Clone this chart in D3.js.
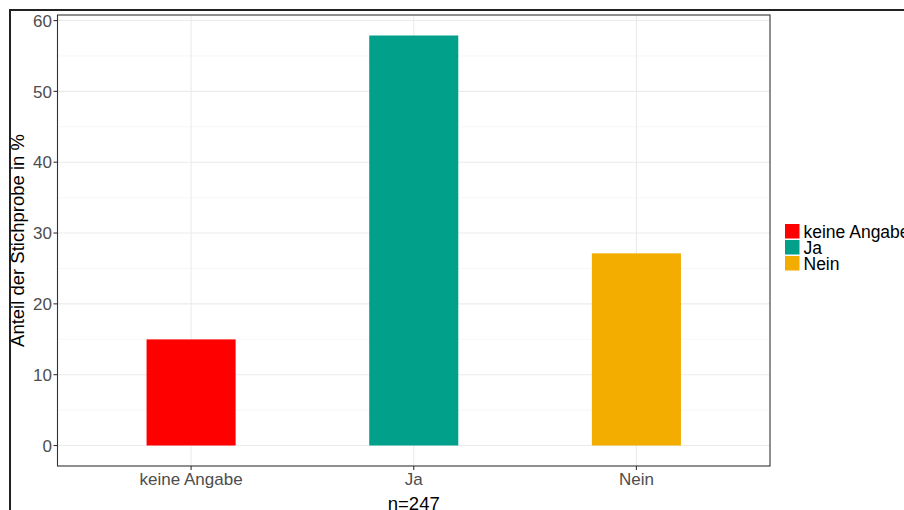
<!DOCTYPE html>
<html><head><meta charset="utf-8">
<script src="https://cdn.jsdelivr.net/npm/d3@7"></script>
<style>body{margin:0;background:#fff;}svg{display:block;font-family:"Liberation Sans",Arial,Helvetica,sans-serif;}</style>
</head><body><svg id="c" width="904" height="510"></svg>
<script>
const categories = ["keine Angabe", "Ja", "Nein"];
const values = [14.98, 57.89, 27.13];
const colors = ["#FF0000", "#00A08A", "#F2AD00"];
const yTicks = [0, 10, 20, 30, 40, 50, 60];
const yMinor = [5, 15, 25, 35, 45, 55];
const yTitle = "Anteil der Stichprobe in %";
const xTitle = "n=247";

const svg = d3.select("#c");
const L = 57.5, R = 770, T = 15, B = 466;
// outer frame
svg.append("rect").attr("x", 10).attr("y", 10).attr("width", 1000).attr("height", 600)
  .attr("fill", "none").attr("stroke", "#222").attr("stroke-width", 2);

const ymax = d3.max(values);
const y = d3.scaleLinear().domain([-0.05 * ymax, ymax * 1.05]).range([B, T]);
const xc = d3.scaleLinear().domain([0.4, 3.6]).range([L, R]);

const g = svg.append("g");
g.append("rect").attr("x", L).attr("y", T).attr("width", R - L).attr("height", B - T).attr("fill", "#fff");
g.selectAll(".mn").data(yMinor).join("line").attr("x1", L).attr("x2", R)
  .attr("y1", d => y(d)).attr("y2", d => y(d)).attr("stroke", "#f2f2f2").attr("stroke-width", 0.6);
g.selectAll(".mj").data(yTicks).join("line").attr("x1", L).attr("x2", R)
  .attr("y1", d => y(d)).attr("y2", d => y(d)).attr("stroke", "#ebebeb").attr("stroke-width", 1.1);
g.selectAll(".vx").data(categories).join("line").attr("y1", T).attr("y2", B)
  .attr("x1", (d, i) => xc(i + 1)).attr("x2", (d, i) => xc(i + 1)).attr("stroke", "#ebebeb").attr("stroke-width", 1.1);

g.selectAll(".bar").data(values).join("rect")
  .attr("x", (d, i) => xc(i + 1 - 0.2)).attr("width", (d, i) => xc(i + 1.2) - xc(i + 0.8))
  .attr("y", d => y(d)).attr("height", d => y(0) - y(d)).attr("fill", (d, i) => colors[i]);

g.append("rect").attr("x", L).attr("y", T).attr("width", R - L).attr("height", B - T)
  .attr("fill", "none").attr("stroke", "#333").attr("stroke-width", 1.1);

// y axis
const ya = svg.append("g");
ya.selectAll("line").data(yTicks).join("line").attr("x1", L - 4).attr("x2", L)
  .attr("y1", d => y(d)).attr("y2", d => y(d)).attr("stroke", "#333").attr("stroke-width", 1.1);
ya.selectAll("text").data(yTicks).join("text").attr("x", L - 5.5).attr("y", d => y(d))
  .attr("dy", "0.36em").attr("text-anchor", "end").attr("fill", "#4d4d4d").attr("font-size", 17).text(d => d);
// x axis
const xa = svg.append("g");
xa.selectAll("line").data(categories).join("line").attr("y1", B).attr("y2", B + 4)
  .attr("x1", (d, i) => xc(i + 1)).attr("x2", (d, i) => xc(i + 1)).attr("stroke", "#333").attr("stroke-width", 1.1);
xa.selectAll("text").data(categories).join("text").attr("x", (d, i) => xc(i + 1)).attr("y", B + 18.5)
  .attr("text-anchor", "middle").attr("fill", "#4d4d4d").attr("font-size", 17).text(d => d);

svg.append("text").attr("transform", `translate(24,${(T + B) / 2}) rotate(-90)`)
  .attr("text-anchor", "middle").attr("font-size", 18.5).attr("fill", "#000").text(yTitle);
svg.append("text").attr("x", (L + R) / 2).attr("y", B + 44).attr("text-anchor", "middle")
  .attr("font-size", 18.5).attr("fill", "#000").text(xTitle);

// legend
const lg = svg.append("g").attr("transform", "translate(785,224)");
categories.forEach((c, i) => {
  lg.append("rect").attr("x", 0).attr("y", i * 16).attr("width", 14.5).attr("height", 14.5).attr("fill", colors[i]);
  lg.append("text").attr("x", 18.5).attr("y", i * 16 + 7.5).attr("dy", "0.36em").attr("font-size", 17.5).attr("fill", "#000").text(c);
});
</script></body></html>
